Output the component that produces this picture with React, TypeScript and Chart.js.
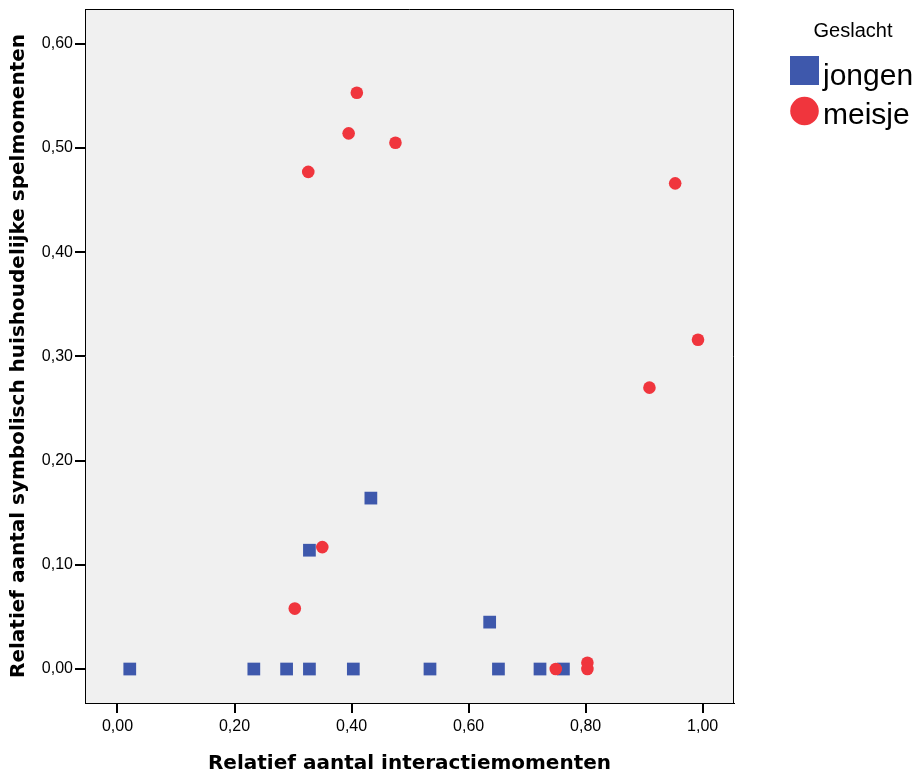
import React, { useEffect, useRef } from "react";
import { Chart, registerables } from "chart.js";

Chart.register(...registerables);

const xTicks = [0, 0.2, 0.4, 0.6, 0.8, 1.0];
const yTicks = [0, 0.1, 0.2, 0.3, 0.4, 0.5, 0.6];

const legendTitle = "Geslacht";
const seriesNames = ["jongen", "meisje"];

const jongenX = [0.021, 0.233, 0.289, 0.328, 0.403, 0.534, 0.651, 0.722, 0.762, 0.328, 0.433, 0.636];
const jongenY = [0, 0, 0, 0, 0, 0, 0, 0, 0, 0.114, 0.164, 0.045];

const meisjeX = [0.303, 0.35, 0.749, 0.803, 0.803, 0.409, 0.395, 0.475, 0.326, 0.953, 0.992, 0.909];
const meisjeY = [0.058, 0.117, 0, 0.006, 0, 0.553, 0.514, 0.505, 0.477, 0.466, 0.316, 0.27];

const xTitle = "Relatief aantal interactiemomenten";
const yTitle = "Relatief aantal symbolisch huishoudelijke spelmomenten";

const BLUE = "#3E58AC";
const RED = "#F0353D";
const PLOT_BG = "#F0F0F0";

const fmt = (v: number) => v.toFixed(2).replace(".", ",");

const plotFramePlugin = {
  id: "plotFrame",
  beforeDraw(chart: any) {
    const { ctx, chartArea } = chart;
    ctx.save();
    ctx.fillStyle = PLOT_BG;
    ctx.fillRect(chartArea.left, chartArea.top, chartArea.right - chartArea.left, chartArea.bottom - chartArea.top);
    ctx.restore();
  },
  afterDatasetsDraw(chart: any) {
    const { ctx, chartArea } = chart;
    ctx.save();
    ctx.strokeStyle = "#000";
    ctx.lineWidth = 1;
    ctx.beginPath();
    ctx.moveTo(chartArea.left, chartArea.top + 0.5);
    ctx.lineTo(chartArea.right - 0.5, chartArea.top + 0.5);
    ctx.lineTo(chartArea.right - 0.5, chartArea.bottom);
    ctx.stroke();
    ctx.restore();
  },
  afterDraw(chart: any) {
    const { ctx } = chart;
    ctx.save();
    ctx.fillStyle = "#000";
    ctx.textBaseline = "alphabetic";
    ctx.textAlign = "center";
    ctx.font = "20px 'Liberation Sans', Arial, sans-serif";
    ctx.fillText(legendTitle, 853, 37);

    ctx.fillStyle = BLUE;
    ctx.fillRect(790, 56, 29, 29);
    ctx.fillStyle = RED;
    ctx.beginPath();
    ctx.arc(804.5, 111, 14.3, 0, Math.PI * 2);
    ctx.fill();

    ctx.fillStyle = "#000";
    ctx.textAlign = "left";
    ctx.font = "30px 'Liberation Sans', Arial, sans-serif";
    ctx.fillText(seriesNames[0], 823, 85);
    ctx.fillText(seriesNames[1], 823, 124);
    ctx.restore();
  },
};

export default function App() {
  const canvasRef = useRef<HTMLCanvasElement | null>(null);

  useEffect(() => {
    const canvas = canvasRef.current;
    if (!canvas) return;
    const tickFont = { family: "'Liberation Sans', Arial, sans-serif", size: 16 };
    const titleFont = { family: "'DejaVu Sans', sans-serif", size: 20, weight: "bold" as const };
    const chart = new Chart(canvas, {
      type: "scatter",
      data: {
        datasets: [
          {
            label: seriesNames[0],
            data: jongenX.map((x, i) => ({ x, y: jongenY[i] })),
            pointStyle: "rect",
            pointRadius: 9,
            pointBackgroundColor: BLUE,
            pointBorderWidth: 0,
            pointBorderColor: BLUE,
            order: 2,
          },
          {
            label: seriesNames[1],
            data: meisjeX.map((x, i) => ({ x, y: meisjeY[i] })),
            pointStyle: "circle",
            pointRadius: 6.3,
            pointBackgroundColor: RED,
            pointBorderWidth: 0,
            pointBorderColor: RED,
            order: 1,
          },
        ],
      },
      options: {
        responsive: false,
        animation: false,
        events: [],
        layout: { padding: { top: 8, right: 185, left: 0, bottom: 0 } },
        plugins: {
          legend: { display: false },
          tooltip: { enabled: false },
        },
        scales: {
          x: {
            type: "linear",
            min: -0.0555,
            max: 1.0535,
            afterBuildTicks: (scale: any) => {
              scale.ticks = xTicks.map((v) => ({ value: v }));
            },
            afterFit: (scale: any) => {
              scale.height = 73;
              scale.paddingLeft = 0;
              scale.paddingRight = 0;
            },
            ticks: {
              color: "#000",
              font: tickFont,
              padding: 4,
              maxRotation: 0,
              autoSkip: false,
              callback: (v: any) => fmt(Number(v)),
            },
            grid: {
              display: true,
              drawOnChartArea: false,
              drawTicks: true,
              tickLength: 10,
              color: "#000",
              lineWidth: 2,
            },
            border: { display: true, color: "#000", width: 1 },
            title: {
              display: true,
              text: xTitle,
              color: "#000",
              font: titleFont,
              padding: { top: 0, bottom: 0 },
            },
          },
          y: {
            type: "linear",
            min: -0.0326,
            max: 0.6333,
            afterBuildTicks: (scale: any) => {
              scale.ticks = yTicks.map((v) => ({ value: v }));
            },
            afterFit: (scale: any) => {
              scale.width = 85;
              scale.paddingTop = 0;
              scale.paddingBottom = 0;
            },
            ticks: {
              color: "#000",
              font: tickFont,
              padding: 2,
              autoSkip: false,
              callback: (v: any) => fmt(Number(v)),
            },
            grid: {
              display: true,
              drawOnChartArea: false,
              drawTicks: true,
              tickLength: 10,
              color: "#000",
              lineWidth: 2,
            },
            border: { display: true, color: "#000", width: 1 },
            title: {
              display: true,
              text: yTitle,
              color: "#000",
              font: titleFont,
              padding: { top: 7, bottom: 0 },
            },
          },
        },
      },
      plugins: [plotFramePlugin],
    });
    return () => chart.destroy();
  }, []);

  return (
    <div style={{ position: "absolute", left: 0, top: 0, width: 919, height: 776, background: "#fff" }}>
      <canvas ref={canvasRef} width={919} height={776} style={{ width: 919, height: 776, display: "block" }} />
    </div>
  );
}
